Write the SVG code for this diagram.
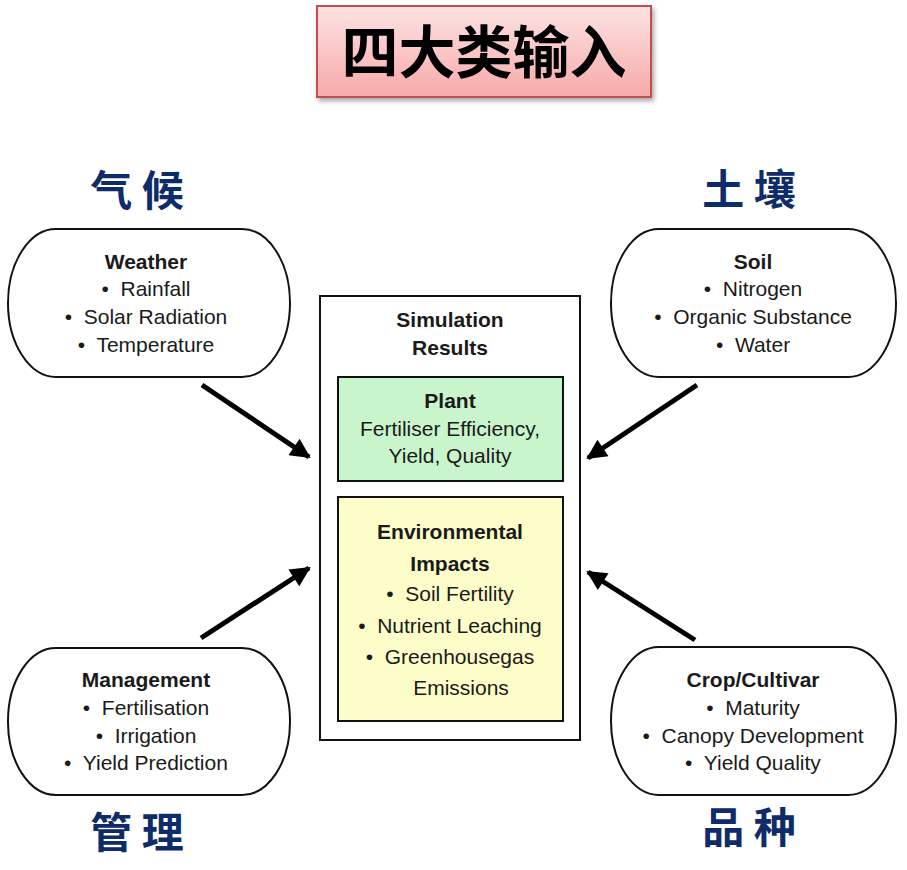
<svg xmlns="http://www.w3.org/2000/svg" width="907" height="870" viewBox="0 0 907 870">
<defs>
<linearGradient id="pink" x1="0" y1="0" x2="0" y2="1">
<stop offset="0" stop-color="#fde3e3"/>
<stop offset="1" stop-color="#f8a9a9"/>
</linearGradient>
<filter id="sh" x="-10%" y="-20%" width="125%" height="150%">
<feDropShadow dx="2" dy="3" stdDeviation="2.5" flood-color="#000" flood-opacity="0.35"/>
</filter>
<marker id="ah" viewBox="0 0 10 10" refX="9" refY="5" markerWidth="4.8" markerHeight="4" orient="auto" markerUnits="strokeWidth">
<path d="M0,0 L10,5 L0,10 Z" fill="#000"/>
</marker>
<style>
.t{font-family:"Liberation Sans",Arial,sans-serif;font-size:21px;fill:#1a1a1a;text-anchor:middle;white-space:pre}
.b{font-weight:bold}
.cn{font-family:"Noto Sans CJK SC",sans-serif;font-weight:bold;font-size:42px;fill:#0e2b6a;text-anchor:middle;white-space:pre}
.pill{fill:#fff;stroke:#111;stroke-width:2}
.box{stroke:#111;stroke-width:2}
.arr{stroke:#000;stroke-width:5;fill:none;marker-end:url(#ah)}
</style>
</defs>
<rect width="907" height="870" fill="#fff"/>
<g id="title">
<rect x="317" y="6" width="334" height="91" fill="url(#pink)" stroke="#c0504d" stroke-width="2" filter="url(#sh)"/>
<text x="484" y="73" style="font-family:'Noto Sans CJK SC',sans-serif;font-weight:bold;font-size:57px;fill:#000;text-anchor:middle">四大类输入</text>
</g>
<g id="label-climate"><text class="cn" x="137" y="206">气 候</text></g>
<g id="label-soil"><text class="cn" x="749" y="205">土 壤</text></g>
<g id="label-management"><text class="cn" x="137" y="848">管 理</text></g>
<g id="label-cultivar"><text class="cn" x="749" y="843">品 种</text></g>
<g id="weather">
<rect class="pill" x="8" y="229" width="282" height="148" rx="48" ry="74"/>
<text class="t b" x="146" y="269">Weather</text>
<text class="t" x="146" y="296">•  Rainfall</text>
<text class="t" x="146" y="324">•  Solar Radiation</text>
<text class="t" x="146" y="352">•  Temperature</text>
</g>
<g id="soil">
<rect class="pill" x="611" y="229" width="285" height="148" rx="48" ry="74"/>
<text class="t b" x="753" y="269">Soil</text>
<text class="t" x="753" y="296">•  Nitrogen</text>
<text class="t" x="753" y="324">•  Organic Substance</text>
<text class="t" x="753" y="352">•  Water</text>
</g>
<g id="management">
<rect class="pill" x="8" y="648" width="282" height="147" rx="48" ry="73"/>
<text class="t b" x="146" y="687">Management</text>
<text class="t" x="146" y="715">•  Fertilisation</text>
<text class="t" x="146" y="743">•  Irrigation</text>
<text class="t" x="146" y="770">•  Yield Prediction</text>
</g>
<g id="crop">
<rect class="pill" x="611" y="647" width="285" height="148" rx="48" ry="74"/>
<text class="t b" x="753" y="687">Crop/Cultivar</text>
<text class="t" x="753" y="715">•  Maturity</text>
<text class="t" x="753" y="743">•  Canopy Development</text>
<text class="t" x="753" y="770">•  Yield Quality</text>
</g>
<g id="simulation">
<rect class="box" x="320" y="296" width="260" height="444" fill="#fff"/>
<text class="t b" x="450" y="327">Simulation</text>
<text class="t b" x="450" y="355">Results</text>
</g>
<g id="plant">
<rect class="box" x="338" y="377" width="225" height="104" fill="#c9f5cd"/>
<text class="t b" x="450" y="408">Plant</text>
<text class="t" x="450" y="436">Fertiliser Efficiency,</text>
<text class="t" x="450" y="463">Yield, Quality</text>
</g>
<g id="environment">
<rect class="box" x="338" y="497" width="225" height="224" fill="#fdfdca"/>
<text class="t b" x="450" y="539">Environmental</text>
<text class="t b" x="450" y="571">Impacts</text>
<text class="t" x="450" y="601">•  Soil Fertility</text>
<text class="t" x="450" y="633">•  Nutrient Leaching</text>
<text class="t" x="450" y="664">•  Greenhousegas</text>
<text class="t" x="461" y="695">Emissions</text>
</g>
<g id="connectors">
<line class="arr" x1="202" y1="385" x2="309" y2="457"/>
<line class="arr" x1="697" y1="385" x2="588" y2="458"/>
<line class="arr" x1="201" y1="638" x2="309" y2="568"/>
<line class="arr" x1="695" y1="640" x2="588" y2="572"/>
</g>
</svg>
